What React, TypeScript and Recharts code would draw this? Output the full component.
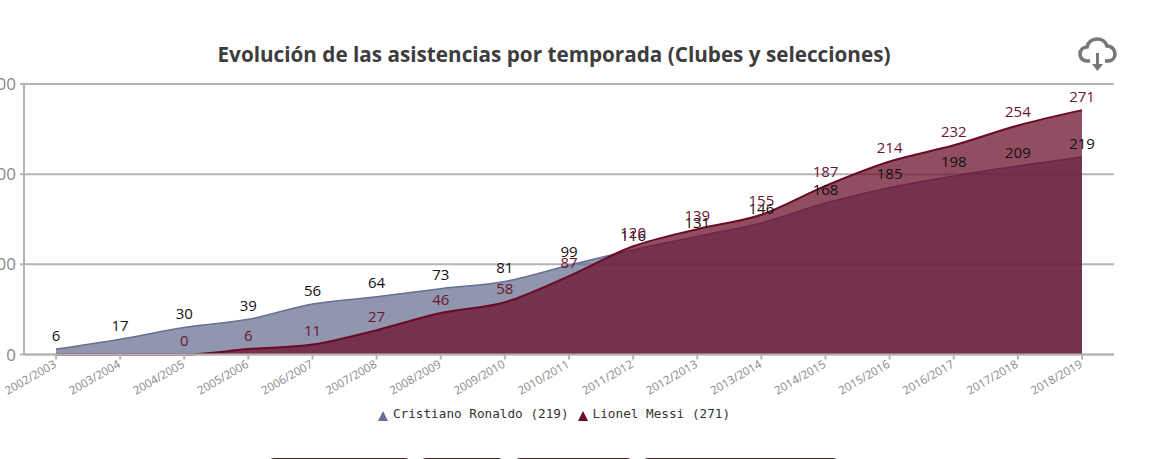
import { AreaChart, Area, XAxis, YAxis, CartesianGrid, LabelList, Legend } from 'recharts';

const seasons = [
  '2002/2003', '2003/2004', '2004/2005', '2005/2006', '2006/2007', '2007/2008',
  '2008/2009', '2009/2010', '2010/2011', '2011/2012', '2012/2013', '2013/2014',
  '2014/2015', '2015/2016', '2016/2017', '2017/2018', '2018/2019',
];
const ronaldo = [6, 17, 30, 39, 56, 64, 73, 81, 99, 116, 131, 146, 168, 185, 198, 209, 219];
const messi = [0, 0, 0, 6, 11, 27, 46, 58, 87, 120, 139, 155, 187, 214, 232, 254, 271];
// Messi has no label on the first two seasons
const messiLabels = [null, null, 0, 6, 11, 27, 46, 58, 87, 120, 139, 155, 187, 214, 232, 254, 271];
const yTicks = [0, 100, 200, 300];

const data = seasons.map((season, i) => ({
  season,
  ronaldo: ronaldo[i],
  messi: messi[i],
  messiLabel: messiLabels[i],
}));

const legendItems = [
  { name: 'Cristiano Ronaldo (219)', color: '#666f94' },
  { name: 'Lionel Messi (271)', color: '#6b0a25' },
];

const sansFont = '"Open Sans", sans-serif';

function ChartLegend() {
  return (
    <div style={{ display: 'flex', justifyContent: 'center', gap: 9, fontFamily: '"DejaVu Sans Mono", monospace', fontSize: 12.7, lineHeight: '15px', color: '#333' }}>
      {legendItems.map((item) => (
        <span key={item.name} style={{ display: 'flex', alignItems: 'center', gap: 5 }}>
          <svg width="10" height="10" style={{ marginTop: 4 }}>
            <polygon points="5,0 10,10 0,10" fill={item.color} />
          </svg>
          {item.name}
        </span>
      ))}
    </div>
  );
}

function CloudIcon() {
  return (
    <svg width="40" height="36" viewBox="0 0 40 36" style={{ position: 'absolute', left: 1078, top: 37 }}>
      <path
        d="M12 24 H9 C4 24 2 20 2 17 C2 13 5 10 9 10 C10 5 14 2 19 2 C24 2 28 5 29 9 C34 9 37 13 37 17 C37 21 34 24 30 24 H27"
        fill="none"
        stroke="#777"
        strokeWidth="3.6"
      />
      <path d="M19.5 16 V29" stroke="#777" strokeWidth="3" />
      <polygon points="14,27 25,27 19.5,34" fill="#777" />
    </svg>
  );
}

const buttons = [
  { left: 268, width: 143, color: '#3a2226' },
  { left: 420, width: 84, color: '#3a2226' },
  { left: 514, width: 119, color: '#3a2226' },
  { left: 642, width: 197, color: '#3a2226' },
];

export default function App() {
  return (
    <div style={{ position: 'absolute', left: 0, top: 0, width: 1157, height: 459, overflow: 'hidden', background: '#fff' }}>
      <div style={{ position: 'absolute', left: 0, width: 1108, top: 39, textAlign: 'center', fontFamily: sansFont, fontWeight: 700, fontSize: 20.7, color: '#3d3d3d', lineHeight: '30px' }}>
        Evolución de las asistencias por temporada (Clubes y selecciones)
      </div>
      <CloudIcon />
      <div style={{ position: 'absolute', left: -20, top: 0 }}>
        <AreaChart width={1177} height={459} data={data} margin={{ top: 84, right: 43, bottom: 29.5, left: 4 }}>
          <CartesianGrid vertical={false} stroke="#b4b4b4" strokeWidth={2} />
          <XAxis
            dataKey="season"
            interval={0}
            height={60}
            padding={{ left: 32, right: 32 }}
            stroke="#b4b4b4"
            strokeWidth={2}
            tickSize={5}
            tickMargin={0}
            angle={-30}
            textAnchor="end"
            dx={-3}
            tick={{ fill: '#888', fontSize: 11.5, fontFamily: sansFont }}
          />
          <YAxis
            width={40}
            domain={[0, 300]}
            ticks={yTicks}
            stroke="#b4b4b4"
            strokeWidth={2}
            tickSize={4}
            tickMargin={4}
            tick={{ fill: '#888', fontSize: 17, fontFamily: sansFont }}
          />
          <Area
            type="monotone"
            dataKey="ronaldo"
            name="Cristiano Ronaldo (219)"
            stroke="#666f94"
            strokeWidth={1.5}
            fill="#5f6a8a"
            fillOpacity={0.7}
            isAnimationActive={false}
          >
            <LabelList dataKey="ronaldo" position="top" offset={8.5} fill="#111" fontSize={15} fontFamily={sansFont} />
          </Area>
          <Area
            type="monotone"
            dataKey="messi"
            name="Lionel Messi (271)"
            stroke="#6b0a25"
            strokeWidth={2}
            fill="#6b0f2a"
            fillOpacity={0.74}
            isAnimationActive={false}
          >
            <LabelList dataKey="messiLabel" position="top" offset={8.5} fill="#6b1530" fontSize={15} fontFamily={sansFont} />
          </Area>
          <Legend
            content={<ChartLegend />}
            wrapperStyle={{ position: 'absolute', left: 20, width: 1108, top: 406, bottom: 'auto' }}
          />
        </AreaChart>
      </div>
      {buttons.map((b) => (
        <div
          key={b.left}
          style={{ position: 'absolute', left: b.left, top: 458, width: b.width, height: 30, background: b.color, borderRadius: 6 }}
        />
      ))}
    </div>
  );
}
